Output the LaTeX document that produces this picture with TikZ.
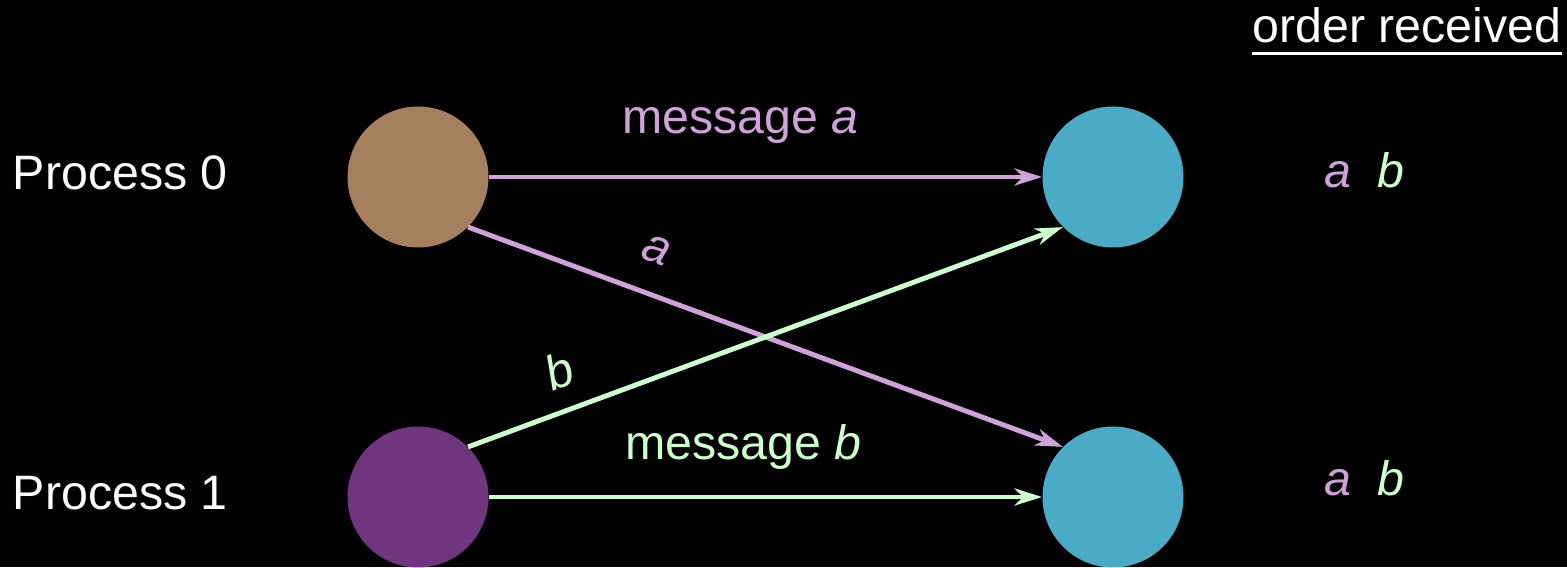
\documentclass[tikz,border=0pt]{standalone}
\usepackage{fontspec}
\setmainfont{Liberation Sans}
\usepackage{tikz}
\usetikzlibrary{arrows.meta}

\definecolor{sendzero}{HTML}{A67F5F}
\definecolor{sendone}{HTML}{70357F}
\definecolor{recvcol}{HTML}{4AABC6}
\definecolor{msga}{HTML}{D0A2DA}
\definecolor{msgb}{HTML}{CCFFCC}

\begin{document}
\begin{tikzpicture}[>={Stealth[length=0.55cm,width=0.34cm,inset=0.17cm]},
		every node/.style={font=\fontsize{27.5}{33}\selectfont},
		proc/.style={circle,minimum size=2.82cm,inner sep=0pt},
		txt/.style={inner sep=0pt,text=white},
		msg/.style={line width=2.8pt,->}]
			\fill[black] (0,0) rectangle (31.34,11.34);
			
			% senders and receivers
			\node[proc,fill=sendzero] (P0) at (8.36,7.80) {};
			\node[proc,fill=sendone] (P1) at (8.36,1.40) {};
			\node[proc,fill=recvcol] (R0) at (22.26,7.80) {};
			\node[proc,fill=recvcol] (R1) at (22.26,1.40) {};
			
			\node[txt,anchor=base west] (lab0) at (0.25,7.54) {Process 0};
			\node[txt,anchor=base west] (lab1) at (0.25,1.15) {Process 1};
			
			% messages
			\draw[msg,msga] (P0) -- (R0) node[txt,text=msga,pos=0.455,above=0.62cm]{message \textit{a}};
			\draw[msg,msgb] (P1) -- (R1) node[txt,text=msgb,pos=0.46,above=0.50cm]{message \textit{b}};
			\draw[msg,msga] (P0.south east) -- (R1.north west) node[txt,text=msga,pos=0.292,sloped,above=0.56cm]{\textit{a}};
			\draw[msg,msgb] (P1.north east) -- (R0.south west) node[txt,text=msgb,pos=0.176,sloped,above=0.40cm]{\textit{b}};
			
			% order at each receiver
			\node[txt,anchor=base] (order) at (28.14,10.49) {order received};
			\draw[white,line width=1.7pt] ([yshift=-0.22cm]order.base west) -- ([yshift=-0.22cm]order.base east);
			\node[txt,anchor=base] (ord0) at (27.29,7.58) {\textit{\color{msga}a}\hspace{0.55em}\textit{\color{msgb}b}};
			\node[txt,anchor=base] (ord1) at (27.29,1.42) {\textit{\color{msga}a}\hspace{0.55em}\textit{\color{msgb}b}};
		\end{tikzpicture}
\end{document}
